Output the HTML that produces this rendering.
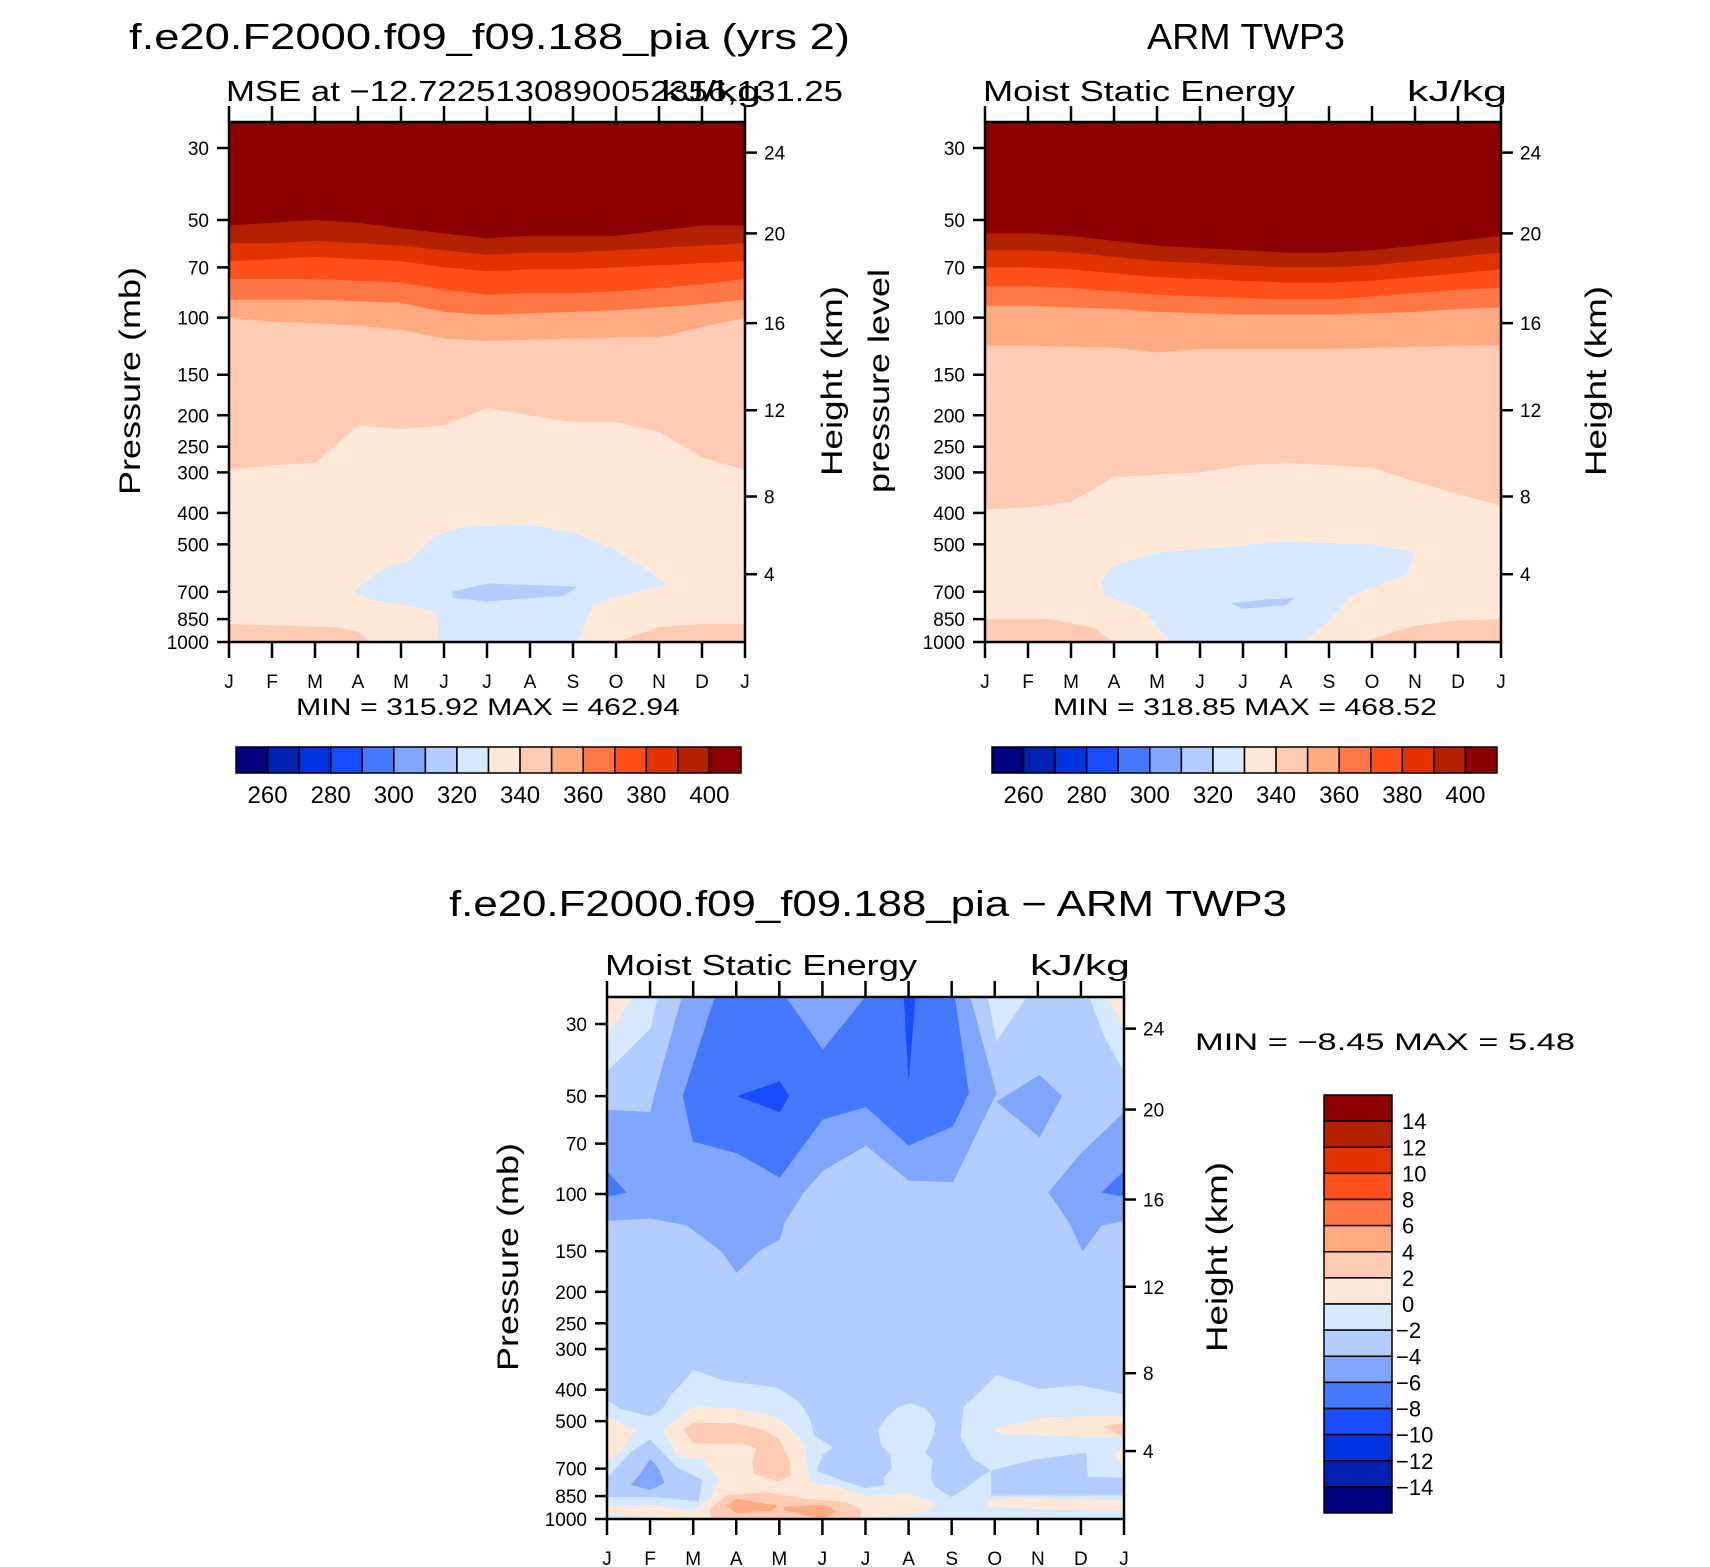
<!DOCTYPE html>
<html><head><meta charset="utf-8">
<style>
html,body{margin:0;padding:0;background:#fff;}
svg{display:block;font-family:"Liberation Sans",sans-serif;}
</style></head>
<body>
<svg id="fig" width="1710" height="1567" viewBox="0 0 1710 1567" xmlns="http://www.w3.org/2000/svg">
<rect width="1710" height="1567" fill="#fff"/>
<g id="layer"></g>
</svg>
<script>
// ---------- data ----------
const months = ["J","F","M","A","M","J","J","A","S","O","N","D","J"];
const pressureTicks = [30,50,70,100,150,200,250,300,400,500,700,850,1000];
const heightTicks = [24,20,16,12,8,4];
const heightTickPressure = [31,55,104,193,356,618];
const mseLevels = [260,270,280,290,300,310,320,330,340,350,360,370,380,390,400];
const mseLabels = [260,280,300,320,340,360,380,400];
const diffLevels = [14,12,10,8,6,4,2,0,-2,-4,-6,-8,-10,-12,-14];
const colors = ["#000080","#0020b0","#0033e0","#1a4cff","#4478ff","#80a6ff","#b3cdff","#d6e9ff","#ffe8d8","#ffcbb3","#ffaa80","#ff7744","#ff4f1a","#e03300","#b32000","#8b0000"];

// model: boundary pressures (per month) for level bands, top to bottom
const modelBandValues = [395,385,375,365,355,345,335];
const modelBoundaries = [
 [52,51,50,51,53,55,57,56,56,56,54,52,52],
 [59,59,58,59,60,62,64,63,63,62,61,60,59],
 [67,66,65,66,67,70,72,71,71,70,69,68,67],
 [76,76,76,77,78,82,85,84,84,83,81,79,76],
 [88,88,88,89,90,96,98,97,96,95,93,91,88],
 [100,103,104,106,109,116,118,117,116,115,115,107,100],
 [295,285,280,215,220,215,190,200,210,210,225,270,295]
];
const modelBlobValues = [325,315,345,345];
const modelBlobs = [
 [[2.9,700],[3.5,600],[4.2,560],[4.8,470],[5.5,440],[7,435],[8,460],[9,520],[10.2,660],[8.5,760],[8.1,1000],[4.9,1000],[4.8,800],[3.3,740]],
 [[5.2,700],[6,660],[7.5,670],[8.1,675],[7.8,720],[6,750],[5.2,730]],
 [[0,880],[2.5,900],[3,930],[3.3,1000],[0,1000]],
 [[9,1000],[10,900],[11,880],[12,880],[12,1000]]
];
// ARM TWP3 observations
const obsBandValues = [395,385,375,365,355,345,335];
const obsBoundaries = [
 [55,55,56,58,60,61,62,63,63,62,60,58,56],
 [62,62,63,65,67,68,69,70,70,69,67,65,63],
 [70,70,71,73,75,76,77,78,78,77,75,73,71],
 [80,80,81,83,85,86,87,88,88,86,84,82,81],
 [92,92,93,94,96,97,98,98,98,97,96,94,93],
 [122,122,123,124,128,125,125,125,125,124,123,122,122],
 [390,385,370,310,305,300,285,280,285,290,320,350,380]
];
const obsBlobValues = [325,315,345,345];
const obsBlobs = [
 [[2.7,650],[3,580],[4,530],[5.5,510],[7,490],[9,500],[10,530],[9.8,620],[8.5,720],[8,860],[7.4,1000],[4.3,1000],[3.7,800],[2.8,720]],
 [[5.7,760],[6.5,740],[7.2,730],[7.0,770],[6,790]],
 [[0,850],[1.5,850],[2.5,900],[3,1000],[0,1000]],
 [[8.8,1000],[10,890],[11,860],[12,850],[12,1000]]
];
// difference field: base value and region polygons [month, pressure]
const diffBase = -3;
const diffValues = [-5,-5,-5,-7,-9,-9,-7,-7,-1,1,-1,-1,1,-1,-3,-5,-3,1,1,3,3,5,5,1,3,1,1];
const diffRegions = [
 [[0,55],[1.01,56],[1.09,50],[1.73,25],[8.44,25],[9.04,49],[8.03,92],[7.0,91],[6.01,71],[5.01,85],[4.57,99],[4.13,122],[4.01,138],[3.53,150],[3.01,175],[2.65,150],[1.85,125],[1.01,119],[0,121]],
 [[12,56],[11,75],[10.24,99],[10.72,122],[11.04,150],[11.48,125],[12,121]],
 [[9.04,52],[10.04,43],[10.56,50],[10.04,67]],
 [[2.49,25],[4.17,25],[5.01,36],[5.97,25],[8.08,25],[8.4,49],[8.03,62],[7.0,71],[6.01,54],[5.01,59],[4.01,89],[3.01,75],[1.99,69],[1.76,50]],
 [[6.89,25],[7.16,25],[7.0,45]],
 [[3.01,50],[4.01,45],[4.23,50],[4.01,56]],
 [[0,85],[0.45,99],[0,102]],
 [[12,85],[11.48,99],[12,102]],
 [[0.58,25],[1.17,25],[1.01,31],[0,42],[0,33]],
 [[0,25],[0.58,25],[0,33]],
 [[8.84,25],[9.72,25],[9.04,34]],
 [[11.2,25],[11.64,25],[12,31],[12,42],[11.55,33]],
 [[11.64,25],[12,25],[12,31]],
 [[0,430],[0.3,457],[1.0,483],[1.29,457],[1.49,414],[1.73,384],[2.01,347],[2.73,376],[3.97,395],[4.45,435],[4.7,486],[4.81,552],[5.25,603],[5.01,634],[4.87,710],[5.41,757],[6.01,804],[6.45,785],[6.41,747],[6.61,701],[6.57,634],[6.37,595],[6.29,532],[6.49,486],[6.77,452],[7.04,440],[7.4,457],[7.64,506],[7.56,559],[7.4,625],[7.56,658],[7.52,747],[7.6,795],[8.0,856],[8.36,799],[8.68,738],[8.92,710],[8.48,650],[8.2,559],[8.28,452],[8.64,408],[9.04,360],[10.04,398],[11.0,388],[12,414],[12,1000],[0,1000]],
 [[0,747],[0.58,618],[1.0,570],[1.65,698],[2.21,757],[2.13,882],[1.09,856],[0,856]],
 [[0.55,785],[0.77,728],[1.0,653],[1.21,701],[1.33,775],[1.0,815]],
 [[8.92,710],[9.88,658],[11.12,625],[11.16,741],[12,747],[12,846],[8.92,846]],
 [[0,486],[0.65,532],[0.3,625],[0,667]],
 [[1.29,532],[1.99,452],[3.01,457],[3.97,486],[4.41,552],[4.61,603],[4.7,766],[5.41,799],[6.01,850],[7.0,836],[7.6,889],[7.48,946],[7.0,971],[5.41,1000],[2.01,1000],[0,971],[0,912],[1.09,904],[2.01,951],[2.45,850],[2.61,760],[2.21,653],[1.65,642]],
 [[1.77,532],[2.01,506],[3.01,508],[3.61,532],[4.01,570],[4.25,667],[4.25,738],[3.97,766],[3.41,728],[3.37,667],[3.47,603],[3.09,587],[2.0,585]],
 [[2.41,923],[2.77,846],[3.65,826],[4.61,866],[5.57,889],[5.89,935],[5.89,1000],[2.41,1000]],
 [[2.77,912],[3.01,866],[3.97,912],[3.81,942],[3.01,959]],
 [[4.09,918],[5.01,904],[5.33,946],[5.01,1000],[4.13,942]],
 [[9.0,525],[10.2,486],[12,481],[12,559],[11.0,559],[9.08,545]],
 [[11.52,519],[12,506],[12,562]],
 [[12,587],[11.8,634],[12,710]],
 [[8.84,877],[9.4,856],[12,877],[12,942],[10.2,935],[8.84,912]]
];

// ---------- helpers ----------
const NS="http://www.w3.org/2000/svg";
const root=document.getElementById('layer');
function el(tag,attrs,parent){const e=document.createElementNS(NS,tag);for(const k in attrs)e.setAttribute(k,attrs[k]);(parent||root).appendChild(e);return e;}
function txt(s,attrs,parent){const t=el('text',attrs,parent);t.textContent=s;return t;}
function mseColor(v){let i=0;while(i<mseLevels.length&&v>mseLevels[i])i++;return colors[i];}
function diffColor(v){const asc=diffLevels.slice().reverse();let i=0;while(i<asc.length&&v>asc[i])i++;return colors[i];}

function makeAxes(P){
  P.k=(P.y+P.h-P.y30)/(3-Math.log10(30));
  P.xm=m=>P.x+m*P.w/12;
  P.yp=p=>P.y+P.h-(3-Math.log10(p))*P.k;
  const cp=el('clipPath',{id:P.id+'-clip'});
  el('rect',{x:P.x,y:P.y,width:P.w,height:P.h},cp);
  P.g=el('g',{'clip-path':'url(#'+P.id+'-clip)'});
  
  
}
function poly(P,pts,fill,name){
  const d=pts.map(q=>P.xm(q[0]).toFixed(1)+','+P.yp(q[1]).toFixed(1)).join(' ');
  const e=el('polygon',{points:d,fill:fill},P.g);
  
  
}
function bands(P,boundaries,values,topVal){
  const r=el('rect',{x:P.x,y:P.y,width:P.w,height:P.h,fill:mseColor(topVal)},P.g);
  
  
  boundaries.forEach((b,i)=>{
    const pts=b.map((p,m)=>[m,p]);pts.push([12,1000]);pts.push([0,1000]);
    poly(P,pts,mseColor(values[i]),'band-'+values[i]);
  });
}
function frame(P,opts){
  const f=el('rect',{x:P.x,y:P.y,width:P.w,height:P.h,fill:'none',stroke:'#000','stroke-width':2.5});
  
  
  pressureTicks.forEach(p=>{
    const y=P.yp(p);
    el('line',{x1:P.x-12,x2:P.x,y1:y,y2:y,stroke:'#000','stroke-width':2.5});
    const t=txt(String(p),{x:P.x-20,y:y+7,'text-anchor':'end','font-size':19});
    
    
  });
  heightTicks.forEach((h,i)=>{
    const y=P.yp(heightTickPressure[i]);
    el('line',{x1:P.x+P.w,x2:P.x+P.w+12,y1:y,y2:y,stroke:'#000','stroke-width':2.5});
    const t=txt(String(h),{x:P.x+P.w+19,y:y+7,'font-size':19});
    
    
  });
  months.forEach((m,i)=>{
    const x=P.xm(i);
    el('line',{x1:x,x2:x,y1:P.y,y2:P.y-16,stroke:'#000','stroke-width':2.5});
    el('line',{x1:x,x2:x,y1:P.y+P.h,y2:P.y+P.h+16,stroke:'#000','stroke-width':2.5});
    const t=txt(m,{x:x,y:P.y+P.h+46,'text-anchor':'middle','font-size':19});
    
    
  });
}
function rotText(s,x,y,len,name){
  const t=txt(s,{x:0,y:0,transform:'translate('+x+','+y+') rotate(-90)','text-anchor':'middle','font-size':30,textLength:len,lengthAdjust:'spacingAndGlyphs'});
  
  
}
function label(s,x,y,size,len,name,anchor){
  const a={x:x,y:y,'font-size':size};
  if(len){a.textLength=len;a.lengthAdjust='spacingAndGlyphs';}
  if(anchor)a['text-anchor']=anchor;
  const t=txt(s,a);
  
  
}
function hColorbar(x,y,w,h,name){
  const g=el('g',{});
  
  
  const bw=w/colors.length;
  colors.forEach((c,i)=>{el('rect',{x:x+i*bw,y:y,width:bw,height:h,fill:c,stroke:'#000','stroke-width':1.5},g);});
  mseLevels.forEach((lv,i)=>{
    if(mseLabels.indexOf(lv)<0)return;
    const t=txt(String(lv),{x:x+(i+1)*bw,y:y+h+30,'text-anchor':'middle','font-size':24},g);
    
    
  });
}

// ---------- panel 1: model ----------
const P1={id:'model-panel',x:229,y:122,w:516,h:520,y30:148};
makeAxes(P1);
bands(P1,modelBoundaries,modelBandValues,405);
modelBlobs.forEach((b,i)=>poly(P1,b,mseColor(modelBlobValues[i]),'model-region-'+i));
frame(P1);
label('f.e20.F2000.f09_f09.188_pia (yrs 2)',129,49,36,721,'model-title');
label('MSE at \u221212.7225130890052356,131.25',226,101,29,617,'model-subtitle');
label('kJ/kg',661,101,29,100,'model-units');
rotText('Pressure (mb)',140,381,228,'model-y-axis-title');
rotText('Height (km)',842,381,190,'model-right-axis-title');
label('MIN = 315.92 MAX = 462.94',296,715,24,384,'model-min-max');
hColorbar(236,747,505,26,'model-colorbar');

// ---------- panel 2: ARM TWP3 ----------
const P2={id:'obs-panel',x:985,y:122,w:516,h:520,y30:148};
makeAxes(P2);
bands(P2,obsBoundaries,obsBandValues,405);
obsBlobs.forEach((b,i)=>poly(P2,b,mseColor(obsBlobValues[i]),'obs-region-'+i));
frame(P2);
label('ARM TWP3',1246,49,36,198,'obs-title','middle');
label('Moist Static Energy',983,101,29,312,'obs-subtitle');
label('kJ/kg',1407,101,29,100,'obs-units');
rotText('pressure level',889,381,224,'obs-y-axis-title');
rotText('Height (km)',1606,381,190,'obs-right-axis-title');
label('MIN = 318.85 MAX = 468.52',1053,715,24,384,'obs-min-max');
hColorbar(992,747,505,26,'obs-colorbar');

// ---------- panel 3: difference ----------
const P3={id:'diff-panel',x:607,y:997,w:517,h:522,y30:1024};
makeAxes(P3);
{const r=el('rect',{x:P3.x,y:P3.y,width:P3.w,height:P3.h,fill:diffColor(diffBase)},P3.g);
 
 }
diffRegions.forEach((r,i)=>poly(P3,r,diffColor(diffValues[i]),'diff-region-'+i));
frame(P3);
label('f.e20.F2000.f09_f09.188_pia \u2212 ARM TWP3',449,916,36,838,'diff-title');
label('Moist Static Energy',605,975,29,312,'diff-subtitle');
label('kJ/kg',1030,975,29,100,'diff-units');
rotText('Pressure (mb)',518,1257,228,'diff-y-axis-title');
rotText('Height (km)',1227,1257,190,'diff-right-axis-title');
label('MIN =   \u22128.45 MAX =     5.48',1195,1050,24,380,'diff-min-max');
// vertical colorbar
{
  const x=1324,y=1095,w=68,h=418,g=el('g',{});
  
  
  const bh=h/colors.length;
  colors.slice().reverse().forEach((c,i)=>{el('rect',{x:x,y:y+i*bh,width:w,height:bh,fill:c,stroke:'#000','stroke-width':1.5},g);});
  diffLevels.forEach((lv,i)=>{
    const t=txt(String(lv).replace('-','\u2212'),{x:x+w+(lv<0?4:10),y:y+(i+1)*bh+8,'font-size':22},g);
    
    
  });
}
</script>
</body></html>
